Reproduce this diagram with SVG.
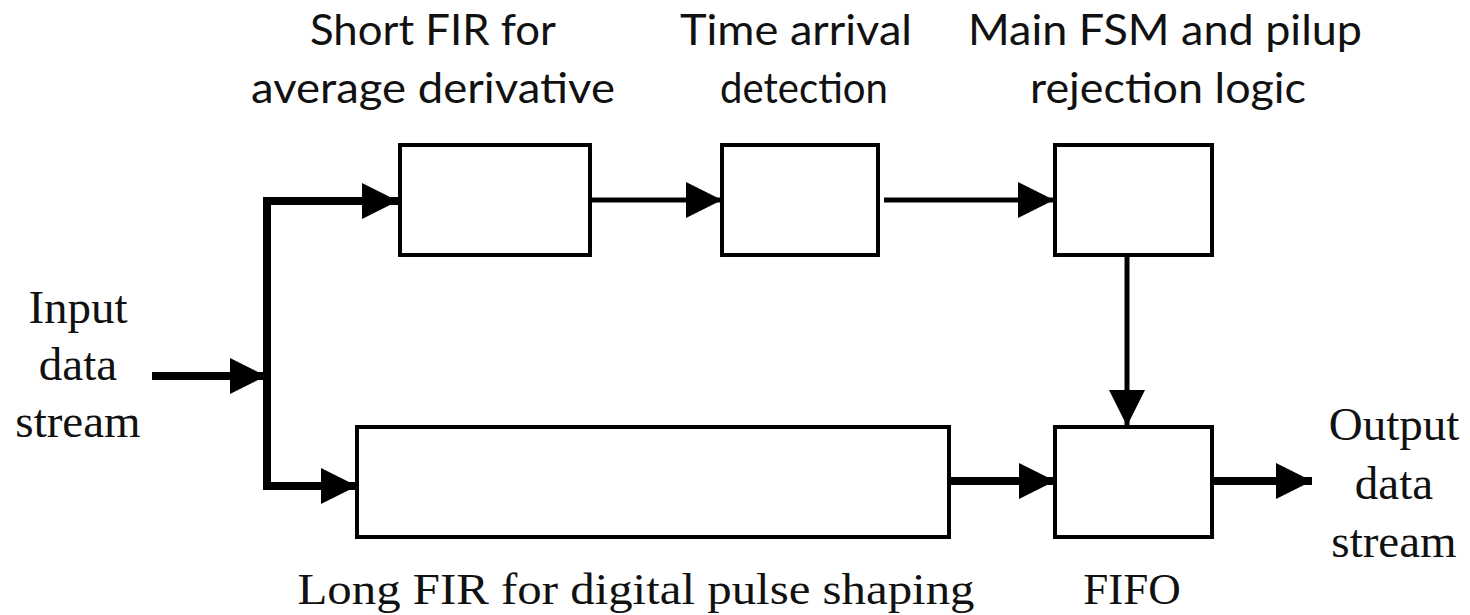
<svg xmlns="http://www.w3.org/2000/svg" width="1470" height="615" viewBox="0 0 1470 615">
  <style>
    .blk { fill: #ffffff; stroke: #000000; stroke-width: 4; }
    .thick { fill: none; stroke: #000000; stroke-width: 8; }
    .thin { fill: none; stroke: #000000; stroke-width: 5; }
    .sans { font-family: Lato, "Open Sans", "Liberation Sans", sans-serif; font-size: 42px; fill: #111; text-anchor: middle; }
    .serif { font-family: "Liberation Serif", "DejaVu Serif", serif; font-size: 45px; fill: #111; text-anchor: middle; }
    .io { font-size: 47px; }
  </style>
  <defs>
    <marker id="arrow" markerUnits="userSpaceOnUse" markerWidth="36" markerHeight="36" refX="36" refY="18" orient="auto">
      <path d="M0,0 L36,18 L0,36 Z" fill="#000"/>
    </marker>
  </defs>

  <rect width="1470" height="615" fill="#ffffff"/>

  <!-- connectors -->
  <g id="connectors">
    <path class="thick" d="M152,376 L266,376" marker-end="url(#arrow)"/>
    <path class="thick" d="M267,198 L267,490"/>
    <path class="thick" d="M263,201 L398,201" marker-end="url(#arrow)"/>
    <path class="thick" d="M263,486 L357,486" marker-end="url(#arrow)"/>
    <path class="thin" d="M590,200 L722,200" marker-end="url(#arrow)"/>
    <path class="thin" d="M884,200 L1054,200" marker-end="url(#arrow)"/>
    <path class="thin" d="M1127,256 L1127,426" marker-end="url(#arrow)"/>
    <path class="thick" d="M949,481 L1055,481" marker-end="url(#arrow)"/>
    <path class="thick" d="M1212,481 L1312,481" marker-end="url(#arrow)"/>
  </g>

  <!-- blocks -->
  <g id="short-fir">
    <rect class="blk" x="400" y="145" width="190" height="110"/>
    <text class="sans" x="433" y="45" textLength="246" lengthAdjust="spacingAndGlyphs">Short FIR for</text>
    <text class="sans" x="433" y="103" textLength="364" lengthAdjust="spacingAndGlyphs">average derivative</text>
  </g>
  <g id="time-arrival">
    <rect class="blk" x="722" y="145" width="156" height="110"/>
    <text class="sans" x="796" y="45" textLength="232" lengthAdjust="spacingAndGlyphs">Time arrival</text>
    <text class="sans" x="804" y="103" textLength="168" lengthAdjust="spacingAndGlyphs">detection</text>
  </g>
  <g id="main-fsm">
    <rect class="blk" x="1055" y="145" width="157" height="110"/>
    <text class="sans" x="1165" y="45" textLength="394" lengthAdjust="spacingAndGlyphs">Main FSM and pilup</text>
    <text class="sans" x="1168" y="103" textLength="276" lengthAdjust="spacingAndGlyphs">rejection logic</text>
  </g>
  <g id="long-fir">
    <rect class="blk" x="357" y="427" width="592" height="110"/>
    <text class="serif" x="636" y="604" textLength="677" lengthAdjust="spacingAndGlyphs">Long FIR for digital pulse shaping</text>
  </g>
  <g id="fifo">
    <rect class="blk" x="1055" y="427" width="157" height="110"/>
    <text class="serif" x="1132" y="604">FIFO</text>
  </g>
  <g id="input">
    <text class="serif io" x="78" y="323">Input</text>
    <text class="serif io" x="78" y="380">data</text>
    <text class="serif io" x="78" y="437">stream</text>
  </g>
  <g id="output">
    <text class="serif io" x="1394" y="440">Output</text>
    <text class="serif io" x="1394" y="499">data</text>
    <text class="serif io" x="1394" y="557">stream</text>
  </g>
</svg>
